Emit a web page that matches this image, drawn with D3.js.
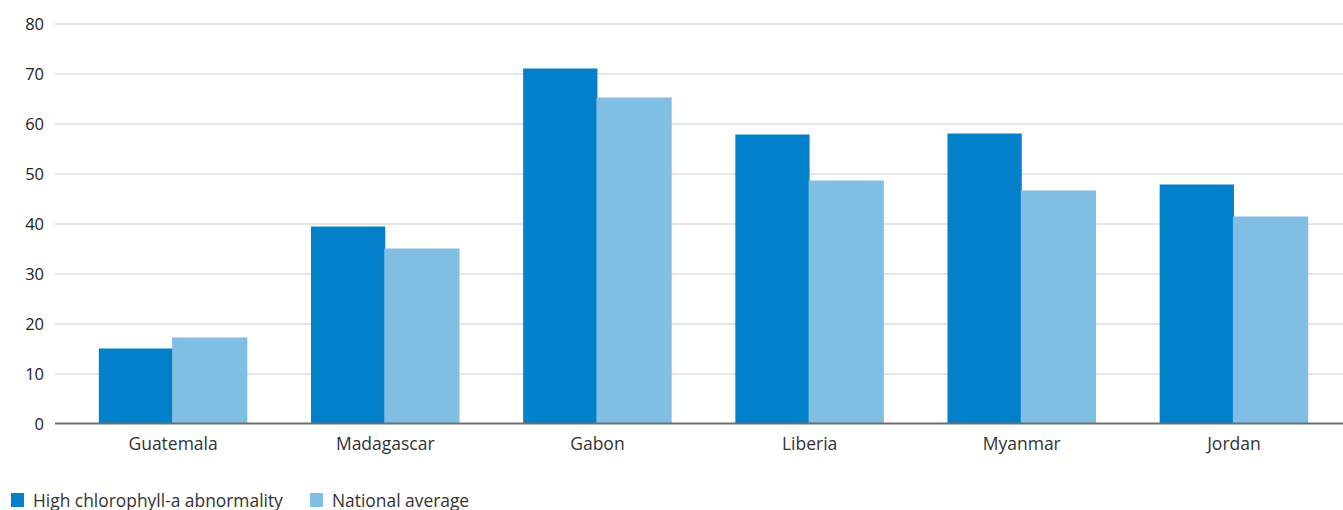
<!DOCTYPE html>
<html>
<head>
<meta charset="utf-8">
<script src="https://cdn.jsdelivr.net/npm/d3@7"></script>
<style>
  html, body { margin: 0; padding: 0; background: #fff; }
  svg { display: block; }
  svg text { font-family: "Open Sans", "Noto Sans", sans-serif; }
</style>
</head>
<body>
<svg id="chart" width="1343" height="510"></svg>
<script>
const categories = ["Guatemala", "Madagascar", "Gabon", "Liberia", "Myanmar", "Jordan"];
const seriesNames = ["High chlorophyll-a abnormality", "National average"];
const highChl = [15, 39.4, 71, 57.8, 58, 47.8];
const nationalAvg = [17.2, 35, 65.2, 48.6, 46.6, 41.4];
const yTicks = [0, 10, 20, 30, 40, 50, 60, 70, 80];
const colors = ["#0280CA", "#80BFE3"];

const svg = d3.select("#chart");
const plotLeft = 55, plotRight = 1343, yTop = 23.5, yBottom = 423.5;

const x0 = d3.scaleBand().domain(categories).range([67, 1340]).paddingInner(0.3).paddingOuter(0.15);
const x1 = d3.scaleBand().domain([0, 1]).range([0, x0.bandwidth()]).padding(0);
const y = d3.scaleLinear().domain([0, 80]).range([yBottom, yTop]);

// gridlines + y labels
const yAxis = d3.axisLeft(y).tickValues(yTicks).tickSize(0).tickPadding(0).tickFormat(d3.format("d"));
const gy = svg.append("g").attr("transform", `translate(${plotLeft},0)`).call(yAxis);
gy.attr("font-family", null).attr("font-size", null);
gy.select(".domain").remove();
gy.selectAll(".tick text")
  .attr("x", -11)
  .attr("dy", "0.35em")
  .attr("fill", "#222")
  .style("font-size", "16.5px");
gy.selectAll(".tick").filter(d => d !== 0).append("line")
  .attr("x1", 0).attr("x2", plotRight - plotLeft)
  .attr("stroke", "#dcdcdc").attr("stroke-width", 1.5);

// bars
const data = categories.map((c, i) => ({ c, vals: [highChl[i], nationalAvg[i]] }));
const groups = svg.append("g").selectAll("g").data(data).join("g")
  .attr("transform", d => `translate(${x0(d.c)},0)`);
groups.selectAll("rect").data(d => d.vals.map((v, k) => ({ v, k }))).join("rect")
  .attr("x", d => x1(d.k) - (d.k === 1 ? 1 : 0))
  .attr("width", d => x1.bandwidth() + (d.k === 1 ? 1 : 0))
  .attr("y", d => y(d.v))
  .attr("height", d => y(0) - y(d.v))
  .attr("fill", d => colors[d.k]);

// x axis
const xAxis = d3.axisBottom(x0).tickSize(0).tickPadding(14);
const gx = svg.append("g").attr("transform", `translate(0,${yBottom})`).call(xAxis);
gx.attr("font-family", null).attr("font-size", null);
gx.select(".domain").remove();
gx.selectAll(".tick text").attr("fill", "#333").style("font-size", "17.5px");
svg.append("line")
  .attr("x1", plotLeft).attr("x2", plotRight)
  .attr("y1", yBottom).attr("y2", yBottom)
  .attr("stroke", "#6e6e6e").attr("stroke-width", 2);

// legend
const legendX = [11, 310];
const lg = svg.append("g").selectAll("g").data(seriesNames).join("g")
  .attr("transform", (d, i) => `translate(${legendX[i]},493)`);
lg.append("rect").attr("width", 13).attr("height", 14).attr("fill", (d, i) => colors[i]);
lg.append("text").attr("x", 22).attr("y", 13.5).text(d => d)
  .attr("fill", "#333").style("font-size", "17.4px");
</script>
</body>
</html>
